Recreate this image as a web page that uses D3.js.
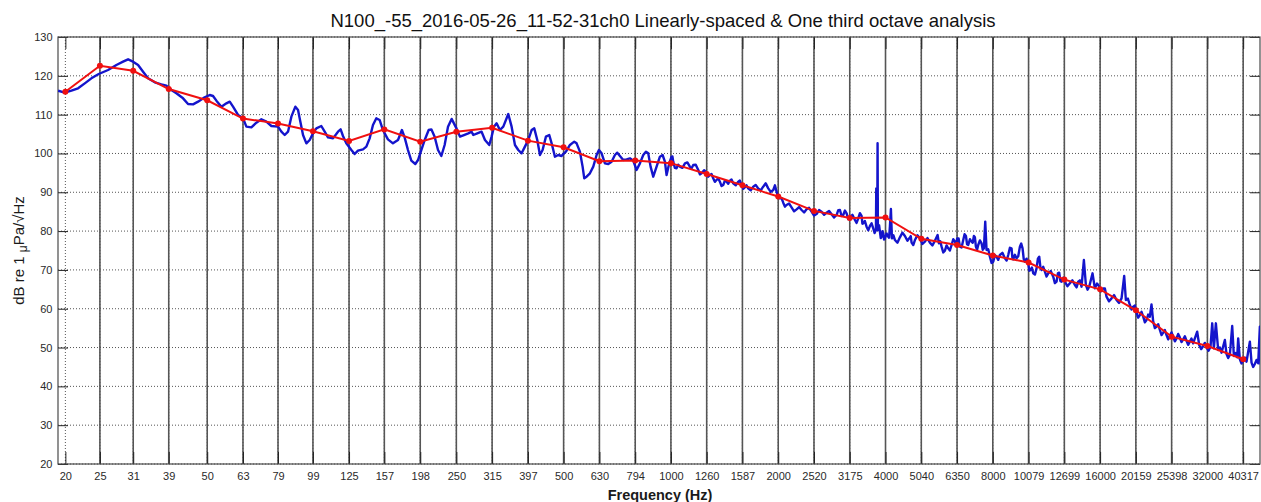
<!DOCTYPE html>
<html>
<head>
<meta charset="utf-8">
<script src="https://cdn.jsdelivr.net/npm/d3@7"></script>
<style>
  body { margin: 0; background: #fff; }
  svg { display: block; font-family: "Liberation Sans", Arial, Helvetica, sans-serif; }
</style>
</head>
<body>
<svg id="chart" width="1261" height="502"></svg>
<script>
// One-third octave band centres (Hz) and their tick labels
const bandFreqs = [20, 25, 31, 39, 50, 63, 79, 99, 125, 157, 198, 250, 315, 397, 500, 630, 794,
  1000, 1260, 1587, 2000, 2520, 3175, 4000, 5040, 6350, 8000, 10079, 12699, 16000, 20159,
  25398, 32000, 40317];
const bandLabels = ["20", "25", "31", "39", "50", "63", "79", "99", "125", "157", "198", "250",
  "315", "397", "500", "630", "794", "1000", "1260", "1587", "2000", "2520", "3175", "4000",
  "5040", "6350", "8000", "10079", "12699", "16000", "20159", "25398", "32000", "40317"];

// One-third octave band levels (dB re 1 uPa/sqrt(Hz))
const bandLevels = [115.9, 122.6, 121.3, 116.6, 113.7, 109.0, 107.7, 105.7, 103.2, 106.2, 103.0,
  105.6, 106.6, 103.3, 101.6, 98.0, 98.2, 97.5, 94.7, 91.8, 88.9, 85.2, 83.4, 83.5, 78.0, 76.4,
  73.7, 71.9, 67.5, 65.0, 59.6, 52.8, 50.4, 47.0];

// Linearly-spaced spectrum as [frequency (Hz), level (dB)] pairs
const spectrum = [
  [19.08,116.17],[19.92,115.66],[20.80,116.17],[21.71,116.78],[22.67,118.06],[23.66,119.35],
  [24.81,120.47],[26.35,121.50],[27.81,122.79],[29.03,123.64],[29.99,124.25],[30.97,123.64],
  [31.99,122.79],[33.04,121.07],[34.12,119.35],[35.63,118.32],[37.19,117.81],[38.41,117.46],
  [39.67,116.34],[40.97,115.49],[42.78,114.20],[44.18,112.74],[45.63,112.65],[47.13,113.34],
  [49.20,114.46],[50.82,115.06],[51.92,114.80],[53.06,113.60],[54.80,112.05],[56.60,112.91],
  [57.83,113.34],[59.08,112.05],[61.02,109.91],[63.03,109.05],[64.40,106.90],[66.51,106.73],
  [68.69,107.93],[70.95,108.79],[73.28,108.19],[75.68,107.07],[79.02,106.90],[80.73,105.61],
  [82.49,104.75],[84.28,105.61],[86.12,109.48],[88.37,112.05],[89.91,111.19],[91.27,108.19],
  [92.86,104.75],[94.88,102.61],[96.94,103.47],[99.05,105.18],[101.2,106.47],[104.5,107.07],
  [106.8,105.61],[109.1,104.15],[112.7,103.89],[116.4,105.61],[118.4,106.21],[120.2,104.50],
  [122.8,102.61],[126.9,100.89],[129.6,99.86],[132.4,100.72],[136.8,101.06],[139.8,101.75],
  [142.8,103.89],[145.9,107.33],[149.1,109.05],[152.3,108.62],[155.6,106.04],[160.7,103.64],
  [166.0,102.61],[171.5,103.47],[175.9,106.04],[179.0,104.15],[182.9,100.89],[186.9,98.14],
  [191.8,97.28],[195.2,98.31],[199.4,100.89],[203.8,103.47],[209.1,106.04],[212.7,106.21],
  [217.3,104.32],[222.1,100.89],[226.9,99.34],[231.8,102.18],[236.9,106.90],[242.5,108.90],
  [249.4,106.73],[255.9,104.33],[262.6,104.75],[270.1,105.18],[275.9,105.61],[278.9,104.75],
  [286.2,105.18],[294.3,105.61],[300.8,103.47],[309.3,102.18],[314.0,104.33],[318.8,106.90],
  [324.3,107.76],[331.3,106.04],[338.6,106.90],[349.7,110.16],[357.3,106.90],[365.1,102.18],
  [373.0,100.89],[381.1,100.03],[389.4,101.75],[397.9,103.47],[406.6,106.04],[413.6,106.47],
  [421.7,103.47],[429.1,99.60],[436.5,100.89],[446.0,104.33],[455.7,104.75],[462.7,102.61],
  [472.7,99.17],[483.0,99.60],[493.5,99.34],[501.0,100.03],[507.5,100.46],[520.8,102.18],
  [535.5,103.04],[543.7,102.61],[555.5,100.46],[565.2,96.60],[571.3,93.59],[579.9,94.02],
  [592.6,94.88],[605.5,96.60],[618.7,99.60],[628.1,100.89],[639.0,100.03],[652.9,97.45],
  [667.1,97.28],[681.6,97.88],[696.4,99.60],[707.0,100.20],[719.3,99.34],[735.0,98.31],
  [751.0,98.48],[767.3,98.74],[784.0,98.14],[801.0,95.74],[818.5,97.45],[836.3,99.60],
  [850.8,100.46],[863.7,100.03],[876.9,96.60],[892.1,94.02],[911.5,96.60],[931.4,99.17],
  [947.5,99.60],[961.9,97.88],[972.3,94.45],[989.2,97.45],
  [1004,99.17],[1010,99.2],[1015,97.88],[1026,96.3],[1037,96.17],[1048,97.1],[1060,96.60],
  [1077,96.3],[1095,97.45],[1112,97.7],[1130,96.60],[1142,96.1],[1155,97.03],[1174,97.1],
  [1193,95.74],[1206,94.6],[1219,94.88],[1239,95.7],[1259,95.05],[1272,94.0],[1286,94.45],
  [1300,94.7],[1314,93.59],[1328,92.7],[1343,93.16],[1357,93.6],[1372,92.73],[1387,91.6],
  [1402,91.87],[1417,93.0],[1433,92.73],[1448,92.2],[1464,92.99],[1479,93.3],[1495,92.30],
  [1520,91.8],[1545,92.73],[1561,93.0],[1578,91.87],[1595,90.9],[1612,91.27],[1629,91.8],
  [1647,91.01],[1674,90.5],[1702,91.44],[1729,91.9],[1757,91.01],[1786,90.5],[1815,91.44],
  [1845,92.3],[1875,91.01],[1906,90.1],[1937,90.59],[1958,91.8],[1979,90.15],[2000,88.8],
  [2021,88.44],[2043,88.5],[2066,87.32],[2088,86.3],[2110,86.72],[2145,87.1],[2180,86.12],
  [2216,85.1],[2252,85.60],[2289,86.2],[2326,85.43],[2364,84.8],[2402,85.60],[2441,86.0],
  [2481,85.00],[2521,84.0],[2562,84.40],[2604,85.4],[2646,85.00],[2690,84.2],[2733,84.75],
  [2778,85.2],[2823,84.32],[2869,83.5],[2916,84.14],[2948,85.4],[2980,85.43],[3012,83.9],
  [3044,84.14],[3078,85.3],[3111,84.57],[3145,83.1],[3178,83.54],[3230,84.2],[3283,82.86],
  [3318,82.1],[3354,83.29],[3390,84.6],[3427,83.89],[3445,81.9],[3464,82.00],[3501,82.6],
  [3539,81.14],[3578,80.2],[3617,81.31],[3656,82.0],[3695,80.71],[3727,79.5],[3760,80.28],
  [3768,91.01],[3776,80.28],[3792,80.28],[3800,102.61],[3808,80.28],[3817,81.14],[3837,81.5],
  [3858,79.85],[3879,78.2],[3900,78.56],[3921,80.0],[3942,79.42],[3963,77.8],[3985,78.13],
  [4028,79.4],[4071,78.56],[4093,78.3],[4115,81.14],[4142,85.69],[4169,78.13],[4210,78.9],
  [4251,77.70],[4320,77.0],[4390,78.39],[4462,79.6],[4534,78.73],[4608,77.5],[4683,78.39],
  [4708,78.7],[4734,77.02],[4785,76.4],[4837,77.70],[4916,78.9],[4996,78.13],[5078,76.7],
  [5160,77.27],[5244,78.2],[5329,77.02],[5416,76.3],[5504,77.53],[5600,78.99],[5648,76.84],
  [5697,77.4],[5746,75.99],[5808,74.5],[5871,74.96],[5934,76.3],[5998,75.56],[6064,75.0],
  [6130,76.42],[6196,77.9],[6263,77.27],[6310,76.7],[6358,78.13],[6413,78.1],[6468,75.99],
  [6538,75.8],[6609,77.70],[6666,79.2],[6724,78.73],[6775,76.6],[6826,76.42],[6900,77.9],
  [6974,77.27],[7027,77.0],[7080,78.73],[7126,78.4],[7172,75.99],[7226,75.2],[7281,76.42],
  [7360,77.6],[7440,76.84],[7496,75.2],[7553,75.56],[7618,82.43],[7683,75.13],[7767,75.3],
  [7851,73.41],[7936,71.8],[8022,72.12],[8109,73.8],[8196,73.41],[8285,72.6],[8375,73.84],
  [8512,74.4],[8650,72.98],[8744,72.4],[8838,73.84],[8934,75.7],[9030,75.56],[9079,73.1],
  [9128,72.72],[9227,73.9],[9327,72.98],[9428,73.5],[9530,75.99],[9612,76.8],[9695,75.56],
  [9769,72.8],[9843,72.12],[9950,72.9],[10056,71.69],[10133,69.8],[10210,69.97],[10298,70.6],
  [10387,69.12],[10500,68.8],[10613,70.40],[10705,72.9],[10797,73.41],[10879,70.7],
  [10961,69.97],[11080,70.8],[11199,69.55],[11321,68.3],[11443,69.12],[11631,69.7],
  [11819,68.26],[11948,66.6],[12077,66.97],[12181,69.1],[12286,69.29],[12380,67.1],
  [12473,66.97],[12608,68.0],[12744,66.97],[12953,65.8],[13162,66.54],[13378,67.3],
  [13595,66.11],[13743,65.5],[13891,66.97],[14042,67.3],[14193,65.68],[14408,72.55],
  [14596,66.11],[14754,64.9],[14912,65.68],[15237,69.12],[15467,65.25],[15688,66.5],
  [15910,65.68],[16116,64.5],[16323,65.25],[16500,65.2],[16678,63.10],[16952,61.9],
  [17226,62.67],[17508,63.5],[17791,62.25],[18084,61.5],[18377,62.67],[18695,68.43],
  [18897,62.25],[19145,62.6],[19393,60.96],[19602,59.8],[19812,60.53],[20027,60.8],
  [20242,58.98],[20462,57.7],[20682,58.38],[20910,59.2],[21138,57.95],[21368,56.5],
  [21598,57.09],[21831,58.5],[22064,57.95],[22300,61.13],[22546,56.67],[22793,55.0],
  [23040,55.38],[23291,56.0],[23543,54.52],[23797,53.2],[24052,53.83],[24313,54.5],
  [24574,53.23],[24837,52.1],[25100,52.97],[25378,53.9],[25657,52.80],[25936,51.6],
  [26215,52.37],[26495,53.5],[26775,52.63],[27072,51.4],[27370,52.11],[27661,52.9],
  [27952,51.77],[28256,50.7],[28560,51.51],[28870,52.3],[29180,51.08],[29957,54.09],
  [30350,50.65],[30746,49.6],[31143,50.40],[31481,51.2],[31819,50.05],[32234,49.2],
  [32650,50.22],[33011,56.24],[33366,49.79],[33801,56.24],[34313,49.36],[34687,50.0],
  [35061,48.68],[35821,51.94],[36205,48.33],[36598,47.3],[36992,48.08],[37561,55.55],
  [37969,47.82],[38380,48.6],[38791,47.47],[39039,52.37],[39465,46.96],[39894,45.9],
  [40323,46.62],[40764,47.4],[41205,46.36],[42099,51.51],[42558,46.10],[43019,45.0],
  [43481,45.76],[43955,46.8],[44429,45.93],[44912,55.38],[45203,45.50]
];

const levelTicks = [20, 30, 40, 50, 60, 70, 80, 90, 100, 110, 120, 130];

const titleText = "N100_-55_2016-05-26_11-52-31ch0 Linearly-spaced & One third octave analysis";

// ---- layout and scales ----
const plot = { left: 58, right: 1260, top: 37, bottom: 464 };
const x = d3.scaleLog().domain([19.07, 44950]).range([plot.left, plot.right]);
const y = d3.scaleLinear().domain([20, 130]).range([plot.bottom, plot.top]);

const svg = d3.select("#chart");

svg.append("defs").append("clipPath").attr("id", "plot-clip")
  .append("rect")
  .attr("x", plot.left).attr("y", plot.top)
  .attr("width", plot.right - plot.left).attr("height", plot.bottom - plot.top);

// dotted grid
const grid = svg.append("g").attr("class", "grid")
  .attr("stroke", "#555").attr("stroke-width", 1).attr("stroke-dasharray", "1,2");
grid.selectAll("line.h").data(levelTicks).join("line")
  .attr("class", "h")
  .attr("x1", plot.left).attr("x2", plot.right)
  .attr("y1", d => y(d)).attr("y2", d => y(d));
grid.selectAll("line.v").data(bandFreqs).join("line")
  .attr("class", "v")
  .attr("x1", d => x(d)).attr("x2", d => x(d))
  .attr("y1", plot.top).attr("y2", plot.bottom);

// solid band markers at each one-third octave centre above the lowest band
svg.append("g").attr("class", "band-lines")
  .selectAll("line").data(bandFreqs.slice(1)).join("line")
  .attr("x1", d => x(d)).attr("x2", d => x(d))
  .attr("y1", plot.top).attr("y2", plot.bottom)
  .attr("stroke", "#555").attr("stroke-width", 1.6);

// axes
const xAxis = d3.axisBottom(x)
  .tickValues(bandFreqs)
  .tickFormat((d, i) => bandLabels[i])
  .tickSizeInner(-12).tickSizeOuter(0).tickPadding(8.5);
const gx = svg.append("g").attr("transform", `translate(0,${plot.bottom})`).call(xAxis);

const gxTop = svg.append("g").attr("transform", `translate(0,${plot.top})`)
  .call(d3.axisTop(x).tickValues(bandFreqs).tickFormat("").tickSizeInner(-12).tickSizeOuter(0));

const yAxis = d3.axisLeft(y).tickValues(levelTicks).tickFormat(d3.format("d"))
  .tickSizeInner(-10).tickSizeOuter(0).tickPadding(5.5);
const gy = svg.append("g").attr("transform", `translate(${plot.left},0)`).call(yAxis);

const gyRight = svg.append("g").attr("transform", `translate(${plot.right},0)`)
  .call(d3.axisRight(y).tickValues(levelTicks).tickFormat("").tickSizeInner(-10).tickSizeOuter(0));

[gx, gxTop, gy, gyRight].forEach(g => {
  g.select(".domain").remove();
  g.selectAll(".tick line").attr("stroke", "#222").attr("stroke-width", 1);
  g.selectAll(".tick text")
    .attr("fill", "#2a2a2a")
    .style("font-family", "'Liberation Sans', Arial, sans-serif")
    .style("font-size", "11px");
});

// frame
svg.append("rect")
  .attr("x", plot.left).attr("y", plot.top)
  .attr("width", plot.right - plot.left).attr("height", plot.bottom - plot.top)
  .attr("fill", "none").attr("stroke", "#4a4a4a").attr("stroke-width", 1.2);

// series
const layer = svg.append("g").attr("clip-path", "url(#plot-clip)");

layer.append("path")
  .datum(spectrum)
  .attr("fill", "none")
  .attr("stroke", "#1414cc")
  .attr("stroke-width", 2.4)
  .attr("stroke-linejoin", "round")
  .attr("d", d3.line().x(d => x(d[0])).y(d => y(d[1])));

const bands = bandFreqs.map((f, i) => [f, bandLevels[i]]);
layer.append("path")
  .datum(bands)
  .attr("fill", "none")
  .attr("stroke", "#f01010")
  .attr("stroke-width", 2)
  .attr("d", d3.line().x(d => x(d[0])).y(d => y(d[1])));

layer.selectAll("circle.band").data(bands).join("circle")
  .attr("class", "band")
  .attr("cx", d => x(d[0])).attr("cy", d => y(d[1]))
  .attr("r", 3)
  .attr("fill", "#f01010");

// labels
svg.append("text")
  .attr("x", 663).attr("y", 27)
  .attr("text-anchor", "middle")
  .style("font-size", "18.5px")
  .attr("fill", "#111")
  .text(titleText);

svg.append("text")
  .attr("x", 660).attr("y", 499.5)
  .attr("text-anchor", "middle")
  .style("font-size", "14.5px")
  .style("font-weight", "bold")
  .attr("fill", "#1a1a1a")
  .text("Frequency (Hz)");

const yl = svg.append("text")
  .attr("transform", `translate(24,${(plot.top + plot.bottom) / 2}) rotate(-90)`)
  .attr("text-anchor", "middle")
  .style("font-size", "15px")
  .attr("fill", "#1a1a1a");
yl.append("tspan").text("dB re 1 ");
yl.append("tspan").attr("dy", "3").style("font-size", "12px").text("\u03BC");
yl.append("tspan").attr("dy", "-3").text("Pa/\u221AHz");
</script>
</body>
</html>
